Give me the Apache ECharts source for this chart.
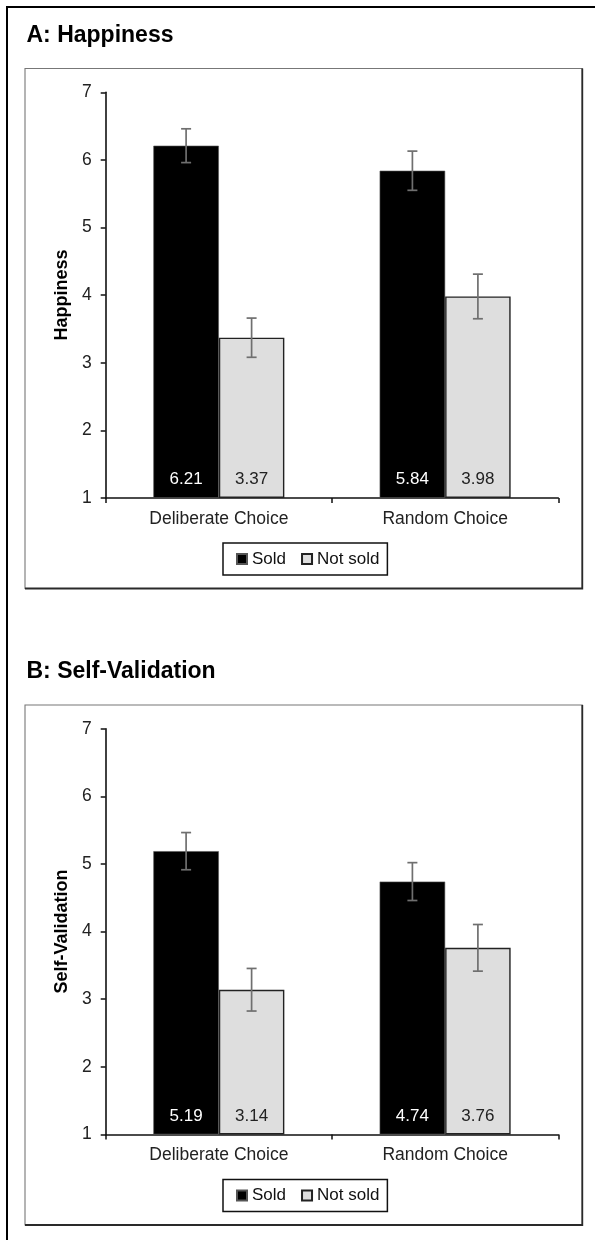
<!DOCTYPE html>
<html>
<head>
<meta charset="utf-8">
<script src="https://cdn.jsdelivr.net/npm/echarts@6/dist/echarts.min.js"></script>
<style>
html,body{margin:0;padding:0;background:#fff;}
#c{width:595px;height:1240px;}
</style>
</head>
<body>
<div id="c"></div>
<script>
// ---- data ----
const categories = ['Deliberate Choice', 'Random Choice'];
const seriesNames = ['Sold', 'Not sold'];
const happinessSold = [6.21, 5.84];
const happinessNotSold = [3.37, 3.98];
const happinessSoldErr = [0.25, 0.29];
const happinessNotSoldErr = [0.29, 0.33];
const validationSold = [5.19, 4.74];
const validationNotSold = [3.14, 3.76];
const validationSoldErr = [0.275, 0.28];
const validationNotSoldErr = [0.315, 0.345];
const yMin = 1, yMax = 7, yStep = 1;
const panelTitles = ['A: Happiness', 'B: Self-Validation'];
const axisNames = ['Happiness', 'Self-Validation'];

// ---- styling ----
const FONT = 'Liberation Sans, Arial, Helvetica, sans-serif';
const BAR_W = 65.5;
const SHIFT = 636.5;
const gridTop = 92.3, gridH = 405.6, gridLeft = 105.7, gridW = 452.6;

const chart = echarts.init(document.getElementById('c'), null, {renderer: 'canvas'});

function errSeries(name, gi, vals, errs, offset) {
  return {
    type: 'custom', name: name + ' err', xAxisIndex: gi, yAxisIndex: gi, z: 10,
    silent: true,
    data: vals.map((v, i) => [i, v, errs[i]]),
    encode: {x: 0, y: 1},
    renderItem: function (params, api) {
      const i = api.value(0), v = api.value(1), e = api.value(2);
      const hi = api.coord([i, v + e]);
      const lo = api.coord([i, v - e]);
      const cx = hi[0] + offset, hw = 5;
      const st = {stroke: '#6f6f6f', lineWidth: 1.7};
      return {type: 'group', children: [
        {type: 'line', shape: {x1: cx, y1: hi[1], x2: cx, y2: lo[1]}, style: st},
        {type: 'line', shape: {x1: cx - hw, y1: hi[1], x2: cx + hw, y2: hi[1]}, style: st},
        {type: 'line', shape: {x1: cx - hw, y1: lo[1], x2: cx + hw, y2: lo[1]}, style: st}
      ]};
    }
  };
}

function barSeries(name, gi, vals, isSold) {
  return {
    type: 'bar', name: name, xAxisIndex: gi, yAxisIndex: gi,
    data: vals, barWidth: BAR_W, barGap: '0%',
    itemStyle: isSold ? {color: '#000', borderColor: '#555', borderWidth: 0.6}
                      : {color: '#dedede', borderColor: '#222', borderWidth: 1.4},
    label: {show: true, position: 'insideBottom', distance: 10,
      color: isSold ? '#fff' : '#222', fontSize: 17, fontFamily: FONT,
      formatter: p => p.value.toFixed(2)},
    emphasis: {disabled: true}
  };
}

const grids = [0, 1].map(k => ({left: gridLeft, top: gridTop + k * SHIFT, width: gridW, height: gridH}));
const xAxes = [0, 1].map(k => ({
  type: 'category', gridIndex: k, data: categories,
  axisLine: {lineStyle: {color: '#111', width: 1.5}},
  axisTick: {show: true, length: 5, lineStyle: {color: '#111', width: 1.5}},
  axisLabel: {color: '#222', fontSize: 17.5, fontFamily: FONT, margin: 12}
}));
const yAxes = [0, 1].map(k => ({
  type: 'value', gridIndex: k, min: yMin, max: yMax, interval: yStep, startValue: yMin,
  name: axisNames[k], nameLocation: 'middle', nameGap: 35,
  nameTextStyle: {color: '#000', fontWeight: 'bold', fontSize: 18, fontFamily: FONT},
  axisLine: {show: true, lineStyle: {color: '#111', width: 1.6}},
  axisTick: {show: true, length: 5, lineStyle: {color: '#111', width: 1.5}},
  axisLabel: {color: '#222', fontSize: 17.5, fontFamily: FONT, margin: 14},
  splitLine: {show: false}
}));

const legends = [0, 1].map(k => ({
  data: seriesNames, left: 223, top: 543 + k * SHIFT,
  orient: 'horizontal', padding: [7.5, 8, 7.5, 13], itemGap: 15,
  itemWidth: 10, itemHeight: 10, icon: 'rect',
  borderColor: '#111', borderWidth: 1.5, backgroundColor: '#fff',
  textStyle: {color: '#111', fontSize: 17, fontFamily: FONT},
  selectedMode: false
}));

const graphics = [
  {type: 'line', shape: {x1: 6, y1: 7, x2: 595, y2: 7}, style: {stroke: '#000', lineWidth: 2}},
  {type: 'line', shape: {x1: 7, y1: 6, x2: 7, y2: 1240}, style: {stroke: '#000', lineWidth: 2}}
];
[0, 1].forEach(k => {
  const top = 68.5 + k * SHIFT;
  graphics.push({type: 'rect', shape: {x: 25, y: top, width: 557.3, height: 520},
    style: {fill: null, stroke: '#777', lineWidth: 1.1}, z: -1});
  graphics.push({type: 'polyline', shape: {points: [[582.3, top], [582.3, top + 520], [25, top + 520]]},
    style: {fill: null, stroke: '#2a2a2a', lineWidth: 1.8}, z: -1});
  graphics.push({type: 'text', x: 26.5, y: 35.5 + k * SHIFT,
    style: {text: panelTitles[k], fill: '#000', font: 'bold 23px ' + FONT, verticalAlign: 'middle', textVerticalAlign: 'middle'}});
});

chart.setOption({
  backgroundColor: '#fff',
  animation: false,
  grid: grids, xAxis: xAxes, yAxis: yAxes, legend: legends,
  graphic: graphics,
  series: [
    barSeries('Sold', 0, happinessSold, true),
    barSeries('Not sold', 0, happinessNotSold, false),
    errSeries('Sold', 0, happinessSold, happinessSoldErr, -BAR_W / 2),
    errSeries('Not sold', 0, happinessNotSold, happinessNotSoldErr, BAR_W / 2),
    barSeries('Sold', 1, validationSold, true),
    barSeries('Not sold', 1, validationNotSold, false),
    errSeries('Sold', 1, validationSold, validationSoldErr, -BAR_W / 2),
    errSeries('Not sold', 1, validationNotSold, validationNotSoldErr, BAR_W / 2)
  ]
});
</script>
</body>
</html>
